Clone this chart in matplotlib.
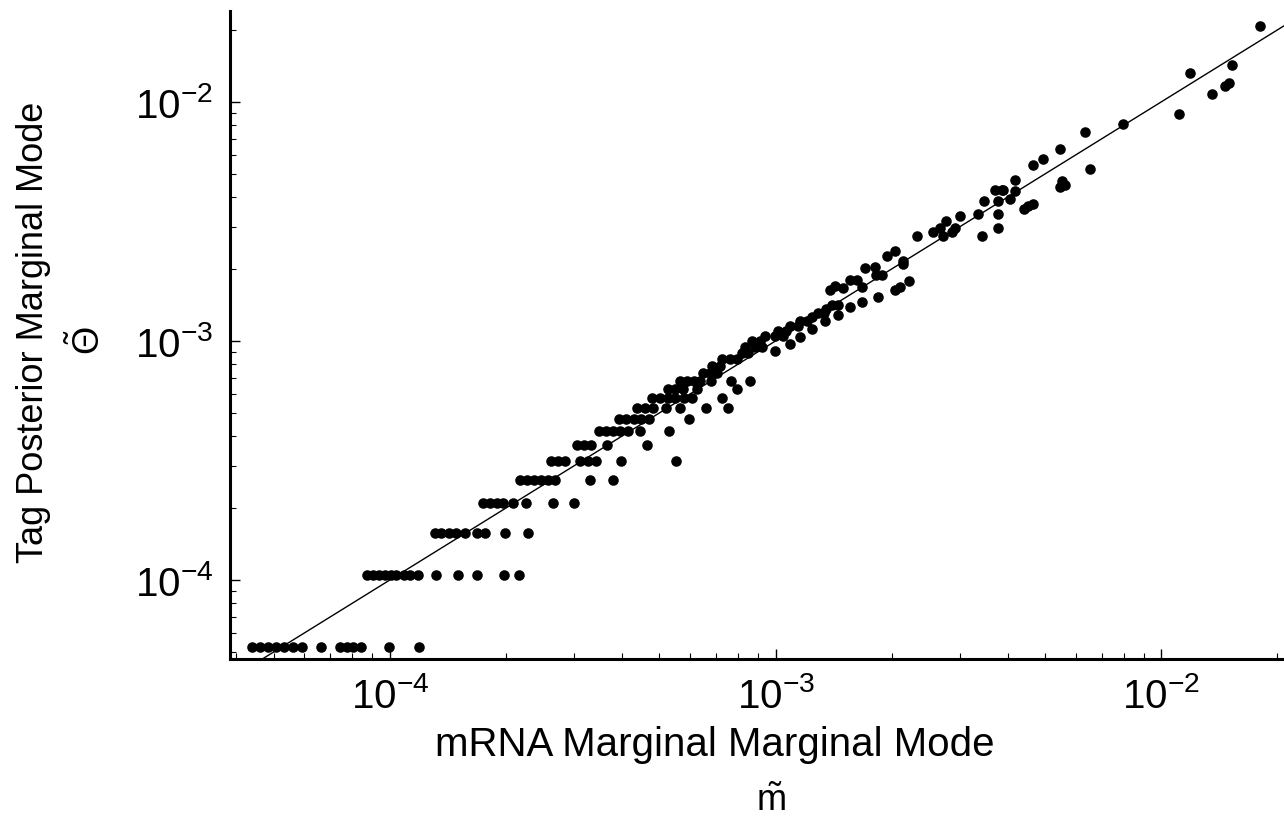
import numpy as np
import matplotlib
matplotlib.use("Agg")
import matplotlib.pyplot as plt

plt.rcParams['font.family'] = ['Liberation Sans', 'DejaVu Sans']
plt.rcParams['mathtext.fontset'] = 'custom'
plt.rcParams['mathtext.rm'] = 'Liberation Sans'
plt.rcParams['mathtext.it'] = 'Liberation Sans:italic'
plt.rcParams['mathtext.bf'] = 'Liberation Sans:bold'

# mRNA marginal mode (x) / tag posterior marginal mode (y), grouped by tag level
mrna = [
    # y = 5.25e-5
    4.39e-5, 4.60e-5, 4.83e-5, 5.06e-5, 5.31e-5, 5.60e-5, 5.91e-5, 6.62e-5,
    7.42e-5, 7.74e-5, 8.02e-5, 8.41e-5, 9.97e-5, 1.19e-4,
    # y = 1.05e-4
    8.72e-5, 9.04e-5, 9.37e-5, 9.71e-5, 1.006e-4, 1.04e-4, 1.09e-4, 1.13e-4,
    1.18e-4, 1.32e-4, 1.50e-4, 1.68e-4, 1.98e-4, 2.16e-4,
    # y = 1.575e-4
    1.31e-4, 1.36e-4, 1.42e-4, 1.48e-4, 1.57e-4, 1.68e-4, 1.76e-4, 1.99e-4, 2.28e-4,
    # y = 2.1e-4
    1.74e-4, 1.82e-4, 1.90e-4, 1.96e-4, 2.09e-4, 2.25e-4, 2.65e-4, 3.00e-4,
    # y = 2.625e-4
    2.17e-4, 2.27e-4, 2.36e-4, 2.46e-4, 2.57e-4, 2.68e-4, 3.30e-4, 3.79e-4,
    # y = 3.15e-4
    2.62e-4, 2.73e-4, 2.84e-4, 3.11e-4, 3.26e-4, 3.42e-4, 3.98e-4, 5.52e-4,
    # y = 3.675e-4
    3.06e-4, 3.19e-4, 3.32e-4, 3.66e-4, 4.64e-4,
    # y = 4.2e-4
    3.48e-4, 3.63e-4, 3.79e-4, 3.95e-4, 4.14e-4, 4.45e-4, 5.29e-4,
    # y = 4.725e-4
    3.93e-4, 4.10e-4, 4.30e-4, 4.48e-4, 4.70e-4, 5.97e-4,
    # y = 5.25e-4
    4.37e-4, 4.59e-4, 4.81e-4, 5.20e-4, 5.65e-4, 6.60e-4, 7.53e-4,
    # y = 5.775e-4
    4.78e-4, 5.02e-4, 5.26e-4, 5.49e-4, 5.79e-4, 6.07e-4, 7.27e-4,
    # y = 6.3e-4
    5.26e-4, 5.49e-4, 5.75e-4, 6.26e-4, 7.95e-4,
    # y = 6.825e-4
    5.65e-4, 5.89e-4, 6.15e-4, 6.37e-4, 6.80e-4, 7.67e-4, 8.59e-4,
    # upper band
    6.49e-4, 6.76e-4, 7.05e-4, 6.84e-4, 7.18e-4, 7.27e-4, 7.62e-4, 7.95e-4,
    8.19e-4, 8.48e-4, 8.33e-4, 8.85e-4, 9.23e-4, 8.69e-4, 9.11e-4,
    9.39e-4, 9.97e-4, 1.046e-3, 1.015e-3, 1.065e-3, 1.09e-3, 1.144e-3,
    1.158e-3, 1.207e-3, 1.244e-3, 1.289e-3, 1.336e-3, 1.352e-3, 1.402e-3, 1.453e-3,
    # lower band
    9.97e-4, 1.09e-3, 1.158e-3, 1.244e-3, 1.344e-3, 1.453e-3, 1.561e-3, 1.676e-3,
    # 1.4e-3 .. 2.3e-3
    1.385e-3, 1.427e-3, 1.497e-3, 1.561e-3, 1.627e-3, 1.676e-3, 1.707e-3,
    1.812e-3, 1.823e-3, 1.889e-3, 1.946e-3, 2.042e-3, 2.141e-3, 2.141e-3,
    1.845e-3, 2.042e-3, 2.104e-3, 2.220e-3,
    # 2.3e-3 .. 5e-3
    2.328e-3, 2.562e-3, 2.671e-3, 2.769e-3, 2.720e-3, 2.870e-3, 2.922e-3, 3.010e-3,
    3.352e-3, 3.474e-3, 3.711e-3, 3.869e-3, 3.778e-3, 3.778e-3, 3.778e-3,
    4.058e-3, 4.181e-3, 4.181e-3, 3.433e-3, 4.412e-3, 4.519e-3, 4.656e-3,
    3.892e-3,
    # > 5e-3
    4.656e-3, 4.943e-3, 5.470e-3, 5.470e-3, 5.636e-3, 5.536e-3, 6.354e-3,
    6.546e-3, 7.97e-3, 1.114e-2, 1.189e-2, 1.356e-2, 1.466e-2, 1.501e-2,
    1.529e-2, 1.806e-2,
]

tag = (
    [5.25e-5] * 14 + [1.05e-4] * 14 + [1.575e-4] * 9 + [2.1e-4] * 8
    + [2.625e-4] * 8 + [3.15e-4] * 8 + [3.675e-4] * 5 + [4.2e-4] * 7
    + [4.725e-4] * 6 + [5.25e-4] * 7 + [5.775e-4] * 7 + [6.3e-4] * 5
    + [6.825e-4] * 7
    + [
        # upper band
        7.35e-4, 7.35e-4, 7.35e-4, 7.86e-4, 7.86e-4, 8.41e-4, 8.41e-4, 8.41e-4,
        8.91e-4, 8.91e-4, 9.44e-4, 9.44e-4, 9.44e-4, 1.00e-3, 1.00e-3,
        1.05e-3, 1.05e-3, 1.05e-3, 1.10e-3, 1.10e-3, 1.156e-3, 1.156e-3,
        1.21e-3, 1.21e-3, 1.26e-3, 1.31e-3, 1.31e-3, 1.36e-3, 1.41e-3, 1.41e-3,
        # lower band
        9.08e-4, 9.71e-4, 1.039e-3, 1.123e-3, 1.21e-3, 1.284e-3, 1.388e-3, 1.456e-3,
        # 1.4e-3 .. 2.3e-3
        1.63e-3, 1.70e-3, 1.66e-3, 1.80e-3, 1.80e-3, 1.68e-3, 2.02e-3,
        2.04e-3, 1.89e-3, 1.89e-3, 2.27e-3, 2.38e-3, 2.16e-3, 2.10e-3,
        1.53e-3, 1.63e-3, 1.68e-3, 1.78e-3,
        # 2.3e-3 .. 5e-3
        2.75e-3, 2.86e-3, 2.97e-3, 3.18e-3, 2.75e-3, 2.86e-3, 2.97e-3, 3.33e-3,
        3.40e-3, 3.85e-3, 4.28e-3, 4.28e-3, 3.85e-3, 3.40e-3, 2.97e-3,
        3.93e-3, 4.24e-3, 4.72e-3, 2.75e-3, 3.57e-3, 3.65e-3, 3.74e-3,
        4.28e-3,
        # > 5e-3
        5.45e-3, 5.77e-3, 6.36e-3, 4.41e-3, 4.49e-3, 4.67e-3, 7.49e-3,
        5.24e-3, 8.09e-3, 8.91e-3, 1.32e-2, 1.08e-2, 1.17e-2, 1.20e-2,
        1.43e-2, 2.08e-2,
    ]
)

fig = plt.figure(figsize=(12.84, 8.2), dpi=100)
ax = fig.add_axes([0.1791, 0.1951, 0.8209, 0.7903])

ax.plot(mrna, tag, 'o', color='black', markersize=7.6, markeredgewidth=0, zorder=3)
ax.axline((1e-4, 1e-4), (1e-2, 1e-2), color='black', linewidth=1.0, zorder=2)

ax.set_xscale('log')
ax.set_yscale('log')
ax.set_xlim(3.85e-5, 2.08e-2)
ax.set_ylim(4.67e-5, 2.40e-2)

for side in ['top', 'right']:
    ax.spines[side].set_visible(False)
for side in ['left', 'bottom']:
    ax.spines[side].set_linewidth(2.2)

ax.tick_params(which='major', direction='in', length=7, width=1.0, labelsize=29)
ax.tick_params(which='minor', direction='in', length=4, width=0.8)
ax.tick_params(axis='x', which='major', pad=12)
ax.tick_params(axis='y', which='major', pad=12)

fig.text(0.026, 0.595, 'Tag Posterior Marginal Mode', rotation=90, fontsize=26,
         ha='center', va='center')
fig.text(0.069, 0.585, r'$\tilde{\Theta}$', rotation=90, fontsize=26,
         ha='center', va='center')
fig.text(0.557, 0.091, 'mRNA Marginal Marginal Mode', fontsize=29,
         ha='center', va='center')
fig.text(0.600, 0.022, r'$\tilde{\mathrm{m}}$', fontsize=26,
         ha='center', va='center')

fig.savefig('out.png', dpi=100)
